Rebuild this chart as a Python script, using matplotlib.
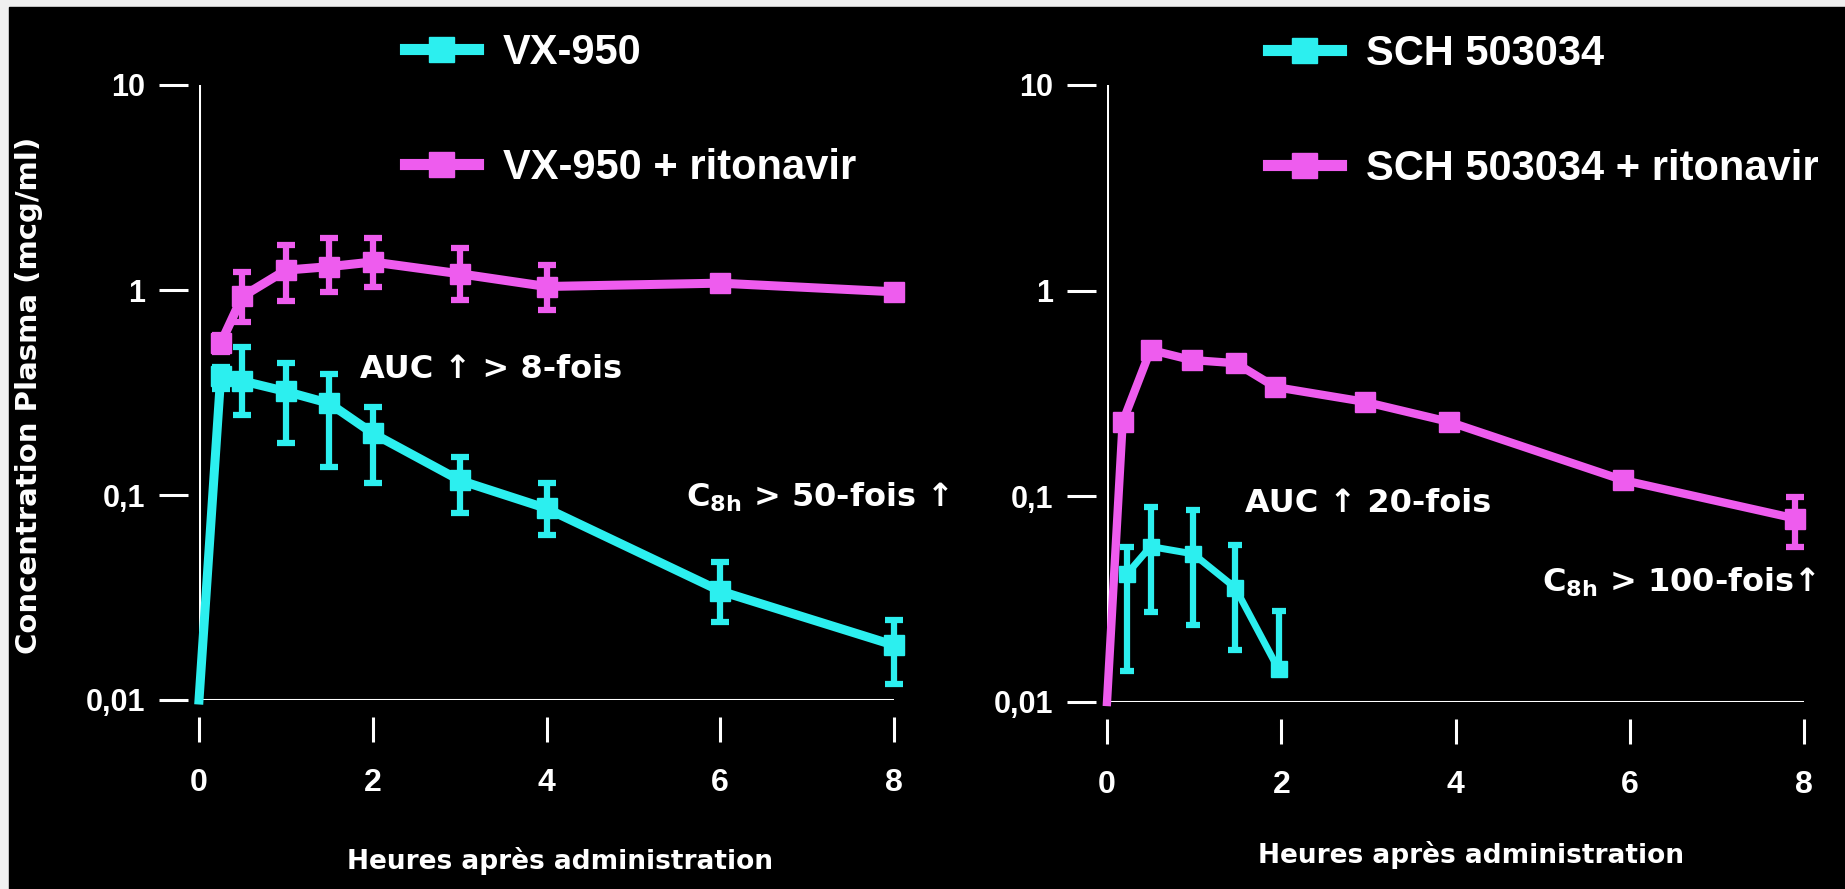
import matplotlib
matplotlib.use('Agg')
import matplotlib.pyplot as plt
from matplotlib.lines import Line2D
from matplotlib.patches import Rectangle
import numpy as np

plt.rcParams['font.family'] = ['Liberation Sans', 'DejaVu Sans']
plt.rcParams['font.weight'] = 'bold'

W, H = 1845, 889
CYAN = '#2CEFEF'
MAGENTA = '#EE5CEE'

# VX-950 panel (hours, mcg/ml)
vx_t = [0, 0.25, 0.5, 1, 1.5, 2, 3, 4, 6, 8]
vx_c = [0.01, 0.38, 0.36, 0.32, 0.28, 0.20, 0.118, 0.086, 0.034, 0.0185]
vx_hi = [0.01, 0.42, 0.53, 0.44, 0.39, 0.27, 0.154, 0.114, 0.047, 0.0245]
vx_lo = [0.01, 0.33, 0.245, 0.18, 0.137, 0.114, 0.0815, 0.064, 0.024, 0.012]

vxr_t = [0.25, 0.5, 1, 1.5, 2, 3, 4, 6, 8]
vxr_c = [0.55, 0.93, 1.25, 1.3, 1.37, 1.2, 1.04, 1.08, 0.98]
vxr_hi = [0.6, 1.23, 1.66, 1.79, 1.79, 1.6, 1.32, 1.15, 1.05]
vxr_lo = [0.5, 0.70, 0.88, 0.98, 1.04, 0.89, 0.80, 1.0, 0.92]

# SCH 503034 panel
sch_t = [0.23, 0.5, 0.99, 1.47, 1.97]
sch_c = [0.042, 0.057, 0.0525, 0.036, 0.0144]
sch_hi = [0.057, 0.089, 0.086, 0.058, 0.0278]
sch_lo = [0.0142, 0.0273, 0.0237, 0.0178, 0.0144]

schr_t = [0, 0.18, 0.5, 0.97, 1.48, 1.93, 2.96, 3.93, 5.92, 7.9]
schr_c = [0.01, 0.23, 0.515, 0.46, 0.444, 0.34, 0.288, 0.23, 0.12, 0.078]
schr_hi = [0.01, 0.23, 0.515, 0.46, 0.444, 0.34, 0.288, 0.23, 0.12, 0.099]
schr_lo = [0.01, 0.23, 0.515, 0.46, 0.444, 0.34, 0.288, 0.23, 0.12, 0.0567]

hour_ticks = [0, 2, 4, 6, 8]
conc_ticks = [0.01, 0.1, 1, 10]
conc_labels = ['0,01', '0,1', '1', '10']

xlabel = 'Heures après administration'
ylabel = 'Concentration Plasma (mcg/ml)'
labels_left = ['VX-950', 'VX-950 + ritonavir']
labels_right = ['SCH 503034', 'SCH 503034 + ritonavir']


def frac(x, y):
    # pixel position in the picture -> figure fraction
    return x / W, 1 - y / H


def style_axes(ax):
    ax.set_yscale('log')
    ax.set_xlim(0, 8)
    ax.set_ylim(0.01, 10)
    ax.set_facecolor('none')
    for s in ax.spines.values():
        s.set_visible(False)
    ax.spines['left'].set_position(('outward', 8))
    ax.spines['bottom'].set_position(('outward', 12))
    ax.set_xticks(hour_ticks)
    ax.set_yticks(conc_ticks, conc_labels)
    ax.minorticks_off()
    ax.tick_params(axis='y', colors='white', length=21, width=2.2, pad=10, labelsize=22)
    ax.tick_params(axis='x', colors='white', length=18, width=2.2, pad=19, labelsize=23)
    ax.axvline(0, color='white', lw=2.2, zorder=1)
    ax.axhline(0.01, color='white', lw=2.2, zorder=1)


def draw(ax, t, c, hi, lo, color, lw, ms, elw, cap, z):
    t = np.array(t)
    c = np.array(c)
    hi = np.array(hi)
    lo = np.array(lo)
    # no marker on the starting point at t = 0
    marked = [i for i in range(len(t)) if t[i] > 0]
    ax.plot(t, c, color=color, lw=lw, marker='s', ms=ms, markevery=marked,
            zorder=z + 0.1, clip_on=False, solid_joinstyle='miter')
    m = (hi > c) | (lo < c)
    eb = ax.errorbar(t[m], c[m], yerr=[c[m] - lo[m], hi[m] - c[m]], fmt='none',
                     ecolor=color, elinewidth=elw, capsize=cap, capthick=elw, zorder=z)
    for a in eb.lines[1] + eb.lines[2]:
        a.set_clip_on(False)


fig = plt.figure(figsize=(W / 100, H / 100), dpi=100, facecolor='#F0F0F0')
fig.patches.append(Rectangle(frac(9, 889), 1, 1 - 7 / H, transform=fig.transFigure,
                             color='black', zorder=-10))

ax1 = fig.add_axes([199 / W, 1 - 700 / H, 695 / W, 615 / H])
ax2 = fig.add_axes([1107 / W, 1 - 702 / H, 697 / W, 617 / H])
style_axes(ax1)
style_axes(ax2)

draw(ax1, vxr_t, vxr_c, vxr_hi, vxr_lo, MAGENTA, 6.5, 15, 4.5, 6.5, 3)
draw(ax1, vx_t, vx_c, vx_hi, vx_lo, CYAN, 6.5, 14, 4.5, 6.5, 4)
draw(ax2, schr_t, schr_c, schr_hi, schr_lo, MAGENTA, 6, 15, 4.5, 6.5, 3)
draw(ax2, sch_t, sch_c, sch_hi, sch_lo, CYAN, 5, 11, 4.5, 5, 4)

# axis labels
lab_font = dict(family='DejaVu Sans', weight='bold', color='white')
ax1.set_xlabel(xlabel, fontsize=19, va='center', **lab_font)
ax1.xaxis.set_label_coords((560 - 199) / 695, -(861 - 700) / 615)
ax2.set_xlabel(xlabel, fontsize=19, va='center', **lab_font)
ax2.xaxis.set_label_coords((1471 - 1107) / 697, -(855 - 702) / 617)
ax1.set_ylabel(ylabel, fontsize=21, va='center', **lab_font)
ax1.yaxis.set_label_coords((29 - 199) / 695, (700 - 395) / 615)

# legends
leg_font = {'family': ['Liberation Sans', 'DejaVu Sans'], 'weight': 'bold', 'size': 30}
for ax, labels, anchor in [(ax1, labels_left, frac(405, 33)),
                           (ax2, labels_right, frac(1268, 34))]:
    handles = [Line2D([], [], color=col, lw=8, marker='s', ms=18)
               for col in (CYAN, MAGENTA)]
    ax.legend(handles, labels, loc='upper left', bbox_to_anchor=anchor,
              bbox_transform=fig.transFigure, frameon=False, prop=leg_font,
              labelcolor='white', handlelength=1.75, handletextpad=0.6,
              labelspacing=1.8, borderpad=0, borderaxespad=0)

# annotations
ann_font = dict(family='DejaVu Sans', weight='bold', color='white', fontsize=23,
                ha='left', va='baseline')
fig.text(*frac(360, 378), 'AUC ↑ > 8-fois', **ann_font)
fig.text(*frac(686, 507), r'C$_{\mathregular{8h}}$ > 50-fois ↑', **ann_font)
fig.text(*frac(1245, 512), 'AUC ↑ 20-fois', **ann_font)
fig.text(*frac(1542, 592), r'C$_{\mathregular{8h}}$ > 100-fois↑', **ann_font)

fig.savefig('out.png', dpi=100, facecolor=fig.get_facecolor())
